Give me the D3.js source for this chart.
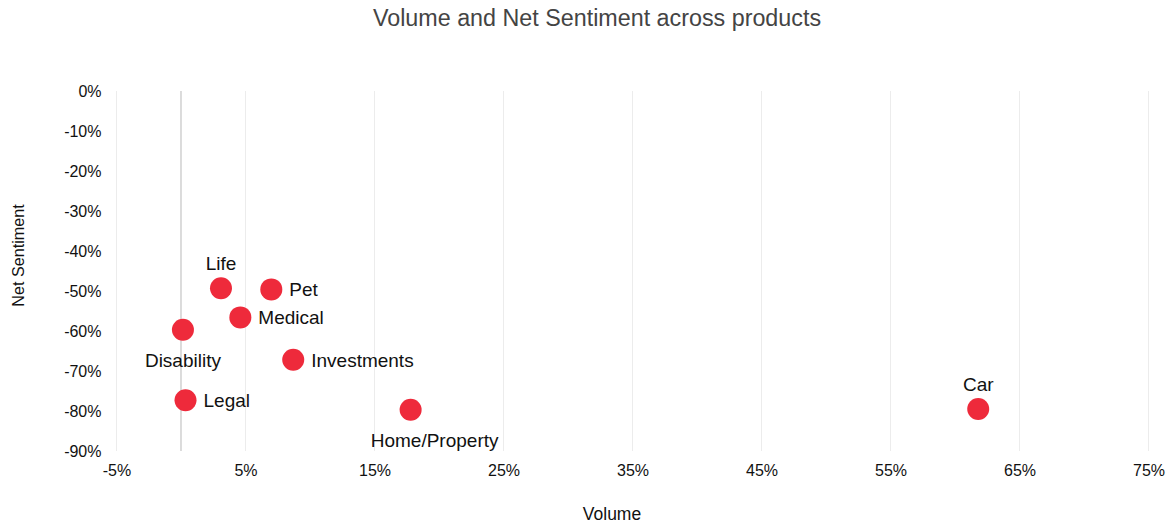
<!DOCTYPE html>
<html>
<head>
<meta charset="utf-8">
<script src="https://cdn.jsdelivr.net/npm/d3@7"></script>
<style>
  html, body { margin: 0; padding: 0; background: #fff; }
  svg { display: block; font-family: "Liberation Sans", Arial, Helvetica, sans-serif; }
</style>
</head>
<body>
<svg id="chart" width="1168" height="525"></svg>
<script>
// Products, their share of volume and net sentiment (percent)
const products = ["Life", "Pet", "Medical", "Disability", "Investments", "Legal", "Home/Property", "Car"];
const volume = [3.1, 7.0, 4.6, 0.15, 8.7, 0.35, 17.8, 61.8];
const netSentiment = [-49.3, -49.6, -56.6, -59.7, -67.2, -77.3, -79.7, -79.5];
// Where each label sits relative to its point
const labelSide = ["top", "right", "right", "bottom", "right", "right", "bottom-right", "top"];

const xTicks = [-5, 5, 15, 25, 35, 45, 55, 65, 75];
const yTicks = [0, -10, -20, -30, -40, -50, -60, -70, -80, -90];

const svg = d3.select("#chart");
const margin = { left: 116.5, right: 19.5, top: 91, bottom: 74 };
const W = 1168, H = 525;

const x = d3.scaleLinear().domain([-5, 75]).range([margin.left, W - margin.right]);
const y = d3.scaleLinear().domain([-90, 0]).range([H - margin.bottom, margin.top]);

const pct = d => d + "%";

// Title
svg.append("text")
  .attr("x", 597).attr("y", 26)
  .attr("text-anchor", "middle")
  .attr("font-size", 23.3)
  .attr("fill", "#444")
  .text("Volume and Net Sentiment across products");

// Vertical grid lines
svg.append("g")
  .selectAll("line")
  .data(xTicks)
  .join("line")
  .attr("x1", d => x(d)).attr("x2", d => x(d))
  .attr("y1", y(0)).attr("y2", y(-90))
  .attr("stroke", "#ececec")
  .attr("stroke-width", 1);

// Zero line for volume
svg.append("line")
  .attr("x1", x(0)).attr("x2", x(0))
  .attr("y1", y(0)).attr("y2", y(-90))
  .attr("stroke", "#c4c4c4")
  .attr("stroke-width", 1.2);

// X axis
const xAxis = svg.append("g")
  .attr("transform", `translate(0,${y(-90)})`)
  .call(d3.axisBottom(x).tickValues(xTicks).tickFormat(pct).tickSize(0).tickPadding(14));
xAxis.select(".domain").remove();
xAxis.selectAll("text")
  .attr("font-size", 16)
  .attr("fill", "#111")
  .attr("font-family", "'Liberation Sans', Arial, sans-serif");

// Y axis
const yAxis = svg.append("g")
  .attr("transform", `translate(${x(-5)},0)`)
  .call(d3.axisLeft(y).tickValues(yTicks).tickFormat(pct).tickSize(0).tickPadding(15));
yAxis.select(".domain").remove();
yAxis.selectAll("text")
  .attr("font-size", 16)
  .attr("fill", "#111")
  .attr("font-family", "'Liberation Sans', Arial, sans-serif");

// Axis titles
svg.append("text")
  .attr("x", 612).attr("y", 520)
  .attr("text-anchor", "middle")
  .attr("font-size", 17.5)
  .attr("fill", "#111")
  .text("Volume");

svg.append("text")
  .attr("transform", "translate(24,255.5) rotate(-90)")
  .attr("text-anchor", "middle")
  .attr("font-size", 16.2)
  .attr("fill", "#111")
  .text("Net Sentiment");

// Points
const pts = products.map((p, i) => ({ name: p, vx: volume[i], vy: netSentiment[i], side: labelSide[i] }));

svg.append("g")
  .selectAll("circle")
  .data(pts)
  .join("circle")
  .attr("cx", d => x(d.vx))
  .attr("cy", d => y(d.vy))
  .attr("r", 11)
  .attr("fill", "#ee2a3b");

// Point labels
svg.append("g")
  .selectAll("text")
  .data(pts)
  .join("text")
  .attr("font-size", 19)
  .attr("fill", "#111")
  .attr("text-anchor", d => d.side === "right" ? "start" : "middle")
  .attr("x", d => {
    const cx = x(d.vx);
    if (d.side === "right") return cx + 18;
    if (d.side === "bottom-right") return cx + 24;
    return cx;
  })
  .attr("y", d => {
    const cy = y(d.vy);
    if (d.side === "right") return cy + 7;
    if (d.side === "top") return cy - 18;
    return cy + 37;
  })
  .text(d => d.name);
</script>
</body>
</html>
